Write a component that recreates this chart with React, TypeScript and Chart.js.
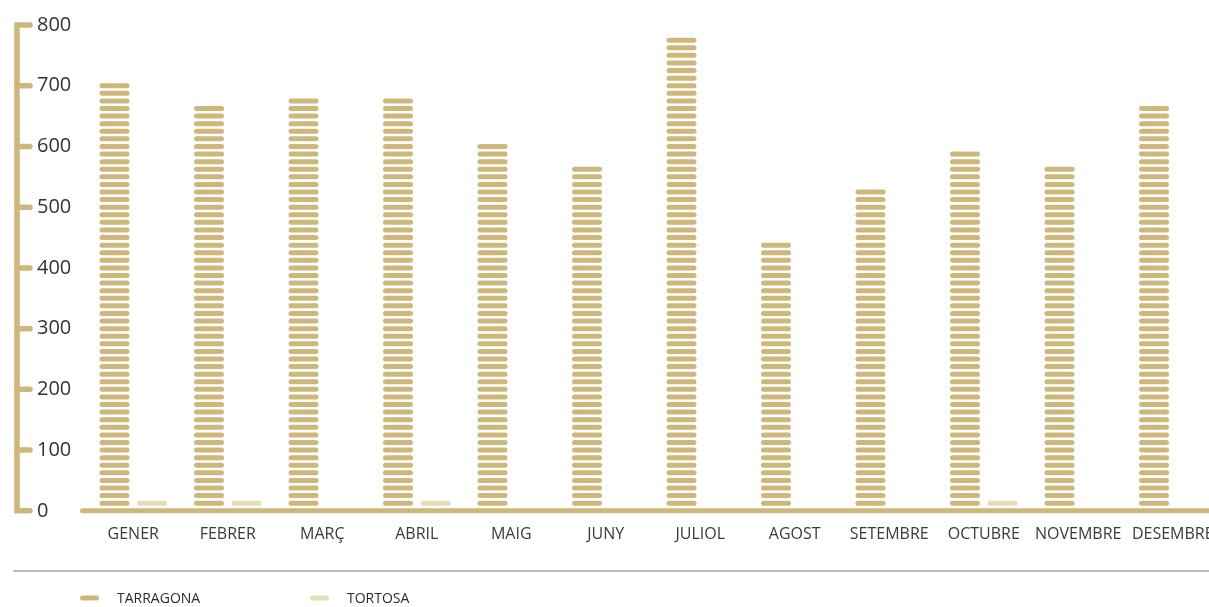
import React, { useEffect, useRef } from "react";
import { Chart, registerables } from "chart.js";

Chart.register(...registerables);

const months = ["GENER", "FEBRER", "MARÇ", "ABRIL", "MAIG", "JUNY", "JULIOL", "AGOST", "SETEMBRE", "OCTUBRE", "NOVEMBRE", "DESEMBRE"];
const tarragona = [697, 657, 671, 675, 600, 558, 774, 443, 524, 587, 562, 663];
const tortosa = [13, 13, 0, 13, 0, 0, 0, 0, 0, 13, 0, 0];
const yTickValues = [0, 100, 200, 300, 400, 500, 600, 700, 800];
const seriesNames = ["TARRAGONA", "TORTOSA"];
const seriesColors = ["#cdb77a", "#e6dcb7"];

const GOLD = "#cdb77a";
const STEP = 12.5;
const STRIPE_H = 5;
const CANVAS_W = 1240;
const CANVAS_H = 607;

function roundedBar(ctx: CanvasRenderingContext2D, x: number, y: number, w: number, h: number) {
  const r = h / 2;
  ctx.beginPath();
  ctx.moveTo(x + r, y);
  ctx.lineTo(x + w - r, y);
  ctx.arc(x + w - r, y + r, r, -Math.PI / 2, Math.PI / 2);
  ctx.lineTo(x + r, y + h);
  ctx.arc(x + r, y + r, r, Math.PI / 2, (3 * Math.PI) / 2);
  ctx.closePath();
  ctx.fill();
}

const stripePlugin = {
  id: "stripes",
  beforeDatasetDraw() {
    return false;
  },
  afterDatasetsDraw(chart: any) {
    const ctx = chart.ctx as CanvasRenderingContext2D;
    const yScale = chart.scales.y;
    ctx.save();
    chart.data.datasets.forEach((ds: any, di: number) => {
      const meta = chart.getDatasetMeta(di);
      meta.data.forEach((el: any, i: number) => {
        const v = ds.data[i] as number;
        const n = Math.round(v / STEP);
        const { x, width } = el.getProps(["x", "width"], true);
        ctx.fillStyle = ds.backgroundColor;
        for (let k = 1; k <= n; k++) {
          const cy = yScale.getPixelForValue(k * STEP);
          roundedBar(ctx, x - width / 2, cy - STRIPE_H / 2, width, STRIPE_H);
        }
      });
    });
    ctx.restore();
  },
};

const axesPlugin = {
  id: "customAxes",
  beforeDatasetsDraw(chart: any) {
    const ctx = chart.ctx as CanvasRenderingContext2D;
    const yScale = chart.scales.y;
    const ax = 17;
    const tickEnd = 30;
    const yTop = yScale.getPixelForValue(yTickValues[yTickValues.length - 1]);
    const y0 = yScale.getPixelForValue(0);
    ctx.save();
    ctx.strokeStyle = GOLD;
    ctx.lineWidth = 5.5;
    ctx.lineCap = "round";
    ctx.lineJoin = "miter";
    ctx.beginPath();
    ctx.moveTo(tickEnd, yTop);
    ctx.lineTo(ax, yTop);
    ctx.lineTo(ax, y0);
    ctx.lineTo(tickEnd, y0);
    ctx.stroke();
    yTickValues.slice(1, -1).forEach((v) => {
      const yy = yScale.getPixelForValue(v);
      ctx.beginPath();
      ctx.moveTo(ax, yy);
      ctx.lineTo(tickEnd, yy);
      ctx.stroke();
    });
    ctx.lineWidth = 5;
    ctx.beginPath();
    ctx.moveTo(82.5, y0);
    ctx.lineTo(chart.width + 10, y0);
    ctx.stroke();
    ctx.restore();
  },
  afterDraw(chart: any) {
    const ctx = chart.ctx as CanvasRenderingContext2D;
    ctx.save();
    ctx.strokeStyle = "#7d7d7d";
    ctx.lineWidth = 1.2;
    ctx.beginPath();
    ctx.moveTo(13, 571);
    ctx.lineTo(chart.width, 571);
    ctx.stroke();
    const xs = [80, 310];
    const ly = 598;
    chart.data.datasets.forEach((ds: any, i: number) => {
      const x = xs[i];
      ctx.strokeStyle = ds.backgroundColor;
      ctx.lineWidth = 5;
      ctx.lineCap = "round";
      ctx.beginPath();
      ctx.moveTo(x + 2.5, ly);
      ctx.lineTo(x + 16.5, ly);
      ctx.stroke();
      ctx.fillStyle = "#2a2a2a";
      ctx.font = '14px "Open Sans"';
      ctx.textBaseline = "middle";
      ctx.textAlign = "left";
      ctx.fillText(ds.label, x + 37, ly + 1);
    });
    ctx.restore();
  },
};

export default function App() {
  const ref = useRef<HTMLCanvasElement | null>(null);
  useEffect(() => {
    if (!ref.current) return;
    const chart = new Chart(ref.current, {
      type: "bar",
      data: {
        labels: months,
        datasets: [
          { label: seriesNames[0], data: tarragona, backgroundColor: seriesColors[0] },
          { label: seriesNames[1], data: tortosa, backgroundColor: seriesColors[1] },
        ],
      },
      options: {
        responsive: false,
        animation: false,
        devicePixelRatio: 1,
        categoryPercentage: 75 / 94.5,
        barPercentage: 0.8,
        layout: { padding: { left: 37, right: 20, top: 25, bottom: 49 } },
        plugins: { legend: { display: false }, tooltip: { enabled: false } },
        scales: {
          x: {
            grid: { display: false, drawTicks: false },
            border: { display: false },
            ticks: {
              padding: 14,
              color: "#3a3a3a",
              font: { family: '"Open Sans"', size: 16 },
              maxRotation: 0,
              autoSkip: false,
            },
          },
          y: {
            min: 0,
            max: 800,
            grid: { display: false, drawTicks: false },
            border: { display: false },
            afterBuildTicks: (scale: any) => {
              scale.ticks = yTickValues.map((v) => ({ value: v }));
            },
            afterFit: (scale: any) => {
              scale.width = 49;
            },
            ticks: {
              crossAlign: "far",
              color: "#333333",
              font: { family: '"Open Sans"', size: 20 },
            },
          },
        },
      },
      plugins: [stripePlugin, axesPlugin],
    } as any);
    return () => chart.destroy();
  }, []);
  return (
    <div style={{ position: "fixed", left: 0, top: 0, width: 1209, height: 607, overflow: "hidden", background: "#fff" }}>
      <canvas ref={ref} width={CANVAS_W} height={CANVAS_H} style={{ display: "block" }} />
    </div>
  );
}
